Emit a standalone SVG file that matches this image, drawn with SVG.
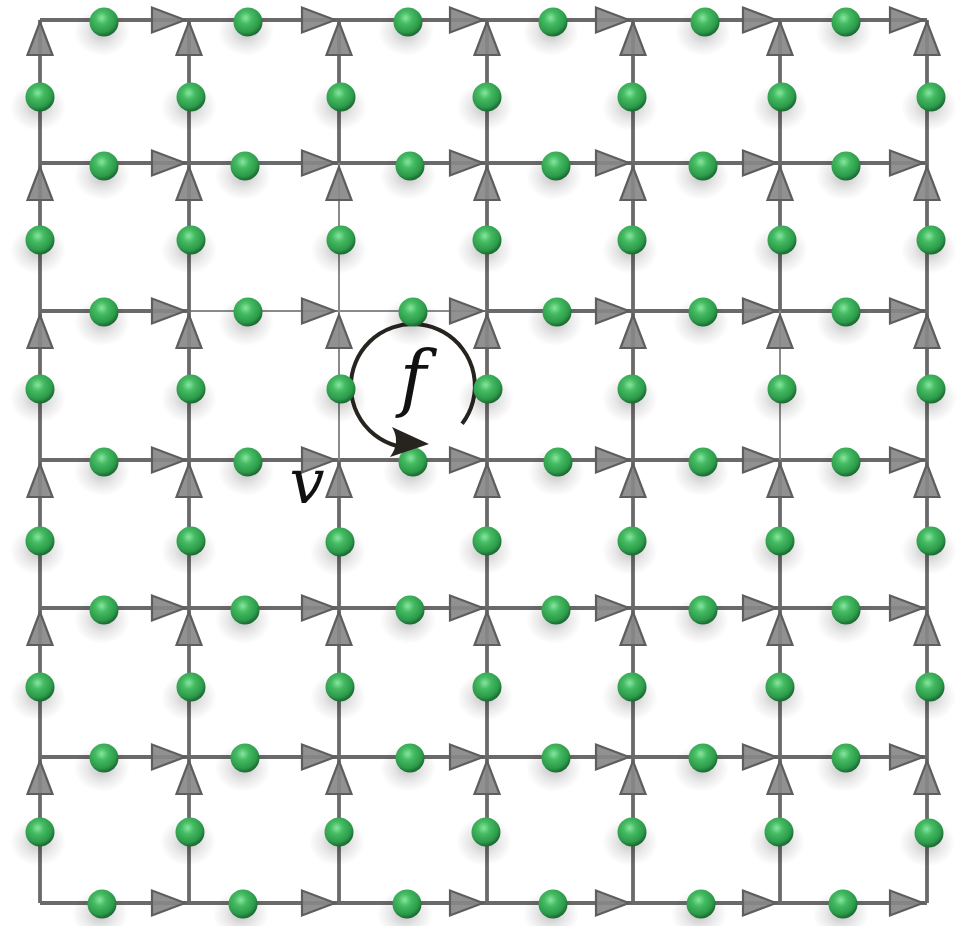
<svg xmlns="http://www.w3.org/2000/svg" xmlns:xlink="http://www.w3.org/1999/xlink" width="965" height="926" viewBox="0 0 965 926">
<defs>
<style>
.ln{stroke:#6a6a6a;stroke-width:3.8;fill:none;stroke-linecap:butt}
.thin{stroke:#8a8a8a;stroke-width:2}
.ar{fill:#888;fill-opacity:0.92;stroke:#5e5e5e;stroke-width:2.2;stroke-linejoin:miter}
</style>
<radialGradient id="gb" cx="0.42" cy="0.36" r="0.62">
<stop offset="0" stop-color="#86e6a0"/>
<stop offset="0.35" stop-color="#45bb62"/>
<stop offset="0.8" stop-color="#2c9a4a"/>
<stop offset="1" stop-color="#1c6d34"/>
</radialGradient>
<radialGradient id="gs" cx="0.5" cy="0.5" r="0.5">
<stop offset="0" stop-color="#000" stop-opacity="0.24"/>
<stop offset="0.55" stop-color="#000" stop-opacity="0.09"/>
<stop offset="1" stop-color="#000" stop-opacity="0"/>
</radialGradient>
<g id="ball">
<ellipse cx="-2" cy="10" rx="28" ry="24" fill="url(#gs)"/>
<circle r="14.5" fill="url(#gb)"/>
</g>
<path id="ah" class="ar" d="M0 0 L-33 -12.5 L-33 12.5 Z"/>
<path id="av" class="ar" d="M0 0 L-12.5 33 L12.5 33 Z"/>
</defs>
<rect width="965" height="926" fill="#fff"/>

<g id="connectors">
<g id="edges">
<path class="ln" d="M40 20H927M40 163H927M40 460H927M40 608H927M40 757H927M40 903H927"/>
<path class="ln" d="M40 311H189M487 311H927"/>
<path class="ln thin" d="M189 311H487"/>
<path class="ln" d="M40 20V903M189 20V903M487 20V903M633 20V903M927 20V903"/>
<path class="ln" d="M339 20V163M339 460V903"/>
<path class="ln thin" d="M339 163V460"/>
<path class="ln" d="M780 20V311M780 460V903"/>
<path class="ln thin" d="M780 311V460"/>
</g>
<g id="h-arrows">
<use href="#ah" x="185" y="20"/><use href="#ah" x="335" y="20"/><use href="#ah" x="483" y="20"/><use href="#ah" x="629" y="20"/><use href="#ah" x="776" y="20"/><use href="#ah" x="923" y="20"/>
<use href="#ah" x="185" y="163"/><use href="#ah" x="335" y="163"/><use href="#ah" x="483" y="163"/><use href="#ah" x="629" y="163"/><use href="#ah" x="776" y="163"/><use href="#ah" x="923" y="163"/>
<use href="#ah" x="185" y="311"/><use href="#ah" x="335" y="311"/><use href="#ah" x="483" y="311"/><use href="#ah" x="629" y="311"/><use href="#ah" x="776" y="311"/><use href="#ah" x="923" y="311"/>
<use href="#ah" x="185" y="460"/><use href="#ah" x="335" y="460"/><use href="#ah" x="483" y="460"/><use href="#ah" x="629" y="460"/><use href="#ah" x="776" y="460"/><use href="#ah" x="923" y="460"/>
<use href="#ah" x="185" y="608"/><use href="#ah" x="335" y="608"/><use href="#ah" x="483" y="608"/><use href="#ah" x="629" y="608"/><use href="#ah" x="776" y="608"/><use href="#ah" x="923" y="608"/>
<use href="#ah" x="185" y="757"/><use href="#ah" x="335" y="757"/><use href="#ah" x="483" y="757"/><use href="#ah" x="629" y="757"/><use href="#ah" x="776" y="757"/><use href="#ah" x="923" y="757"/>
<use href="#ah" x="185" y="903"/><use href="#ah" x="335" y="903"/><use href="#ah" x="483" y="903"/><use href="#ah" x="629" y="903"/><use href="#ah" x="776" y="903"/><use href="#ah" x="923" y="903"/>
</g>
<g id="v-arrows">
<use href="#av" x="40" y="22"/><use href="#av" x="40" y="167"/><use href="#av" x="40" y="315"/><use href="#av" x="40" y="464"/><use href="#av" x="40" y="612"/><use href="#av" x="40" y="761"/>
<use href="#av" x="189" y="22"/><use href="#av" x="189" y="167"/><use href="#av" x="189" y="315"/><use href="#av" x="189" y="464"/><use href="#av" x="189" y="612"/><use href="#av" x="189" y="761"/>
<use href="#av" x="339" y="22"/><use href="#av" x="339" y="167"/><use href="#av" x="339" y="315"/><use href="#av" x="339" y="464"/><use href="#av" x="339" y="612"/><use href="#av" x="339" y="761"/>
<use href="#av" x="487" y="22"/><use href="#av" x="487" y="167"/><use href="#av" x="487" y="315"/><use href="#av" x="487" y="464"/><use href="#av" x="487" y="612"/><use href="#av" x="487" y="761"/>
<use href="#av" x="633" y="22"/><use href="#av" x="633" y="167"/><use href="#av" x="633" y="315"/><use href="#av" x="633" y="464"/><use href="#av" x="633" y="612"/><use href="#av" x="633" y="761"/>
<use href="#av" x="780" y="22"/><use href="#av" x="780" y="167"/><use href="#av" x="780" y="315"/><use href="#av" x="780" y="464"/><use href="#av" x="780" y="612"/><use href="#av" x="780" y="761"/>
<use href="#av" x="927" y="22"/><use href="#av" x="927" y="167"/><use href="#av" x="927" y="315"/><use href="#av" x="927" y="464"/><use href="#av" x="927" y="612"/><use href="#av" x="927" y="761"/>
</g>
<path id="face-loop" d="M462.1 423.8 A62 62 0 1 0 397 446" fill="none" stroke="#27231f" stroke-width="4"/>
</g>

<g id="qubits">
<use id="qh-0-0" href="#ball" x="104" y="22"/><use id="qh-0-1" href="#ball" x="248" y="22"/><use id="qh-0-2" href="#ball" x="408" y="22"/><use id="qh-0-3" href="#ball" x="553" y="22"/><use id="qh-0-4" href="#ball" x="705" y="22"/><use id="qh-0-5" href="#ball" x="846" y="22"/>
<use id="qh-1-0" href="#ball" x="104" y="166"/><use id="qh-1-1" href="#ball" x="245" y="166"/><use id="qh-1-2" href="#ball" x="410" y="166"/><use id="qh-1-3" href="#ball" x="556" y="166"/><use id="qh-1-4" href="#ball" x="703" y="166"/><use id="qh-1-5" href="#ball" x="846" y="166"/>
<use id="qh-2-0" href="#ball" x="104" y="312"/><use id="qh-2-1" href="#ball" x="248" y="312"/><use id="qh-2-2" href="#ball" x="413" y="312"/><use id="qh-2-3" href="#ball" x="557" y="312"/><use id="qh-2-4" href="#ball" x="703" y="312"/><use id="qh-2-5" href="#ball" x="846" y="312"/>
<use id="qh-3-0" href="#ball" x="104" y="462"/><use id="qh-3-1" href="#ball" x="248" y="462"/><use id="qh-3-2" href="#ball" x="413" y="462"/><use id="qh-3-3" href="#ball" x="558" y="462"/><use id="qh-3-4" href="#ball" x="703" y="462"/><use id="qh-3-5" href="#ball" x="846" y="462"/>
<use id="qh-4-0" href="#ball" x="104" y="610"/><use id="qh-4-1" href="#ball" x="245" y="610"/><use id="qh-4-2" href="#ball" x="410" y="610"/><use id="qh-4-3" href="#ball" x="556" y="610"/><use id="qh-4-4" href="#ball" x="703" y="610"/><use id="qh-4-5" href="#ball" x="846" y="610"/>
<use id="qh-5-0" href="#ball" x="104" y="758"/><use id="qh-5-1" href="#ball" x="245" y="758"/><use id="qh-5-2" href="#ball" x="410" y="758"/><use id="qh-5-3" href="#ball" x="556" y="758"/><use id="qh-5-4" href="#ball" x="703" y="758"/><use id="qh-5-5" href="#ball" x="846" y="758"/>
<use id="qh-6-0" href="#ball" x="102" y="904"/><use id="qh-6-1" href="#ball" x="243" y="904"/><use id="qh-6-2" href="#ball" x="407" y="904"/><use id="qh-6-3" href="#ball" x="553" y="904"/><use id="qh-6-4" href="#ball" x="701" y="904"/><use id="qh-6-5" href="#ball" x="843" y="904"/>

<use id="qv-0-0" href="#ball" x="40" y="97"/><use id="qv-0-1" href="#ball" x="40" y="240"/><use id="qv-0-2" href="#ball" x="40" y="389"/><use id="qv-0-3" href="#ball" x="40" y="541"/><use id="qv-0-4" href="#ball" x="40" y="687"/><use id="qv-0-5" href="#ball" x="40" y="832"/>
<use id="qv-1-0" href="#ball" x="191" y="97"/><use id="qv-1-1" href="#ball" x="191" y="240"/><use id="qv-1-2" href="#ball" x="191" y="389"/><use id="qv-1-3" href="#ball" x="191" y="541"/><use id="qv-1-4" href="#ball" x="191" y="687"/><use id="qv-1-5" href="#ball" x="190" y="832"/>
<use id="qv-2-0" href="#ball" x="341" y="97"/><use id="qv-2-1" href="#ball" x="341" y="240"/><use id="qv-2-2" href="#ball" x="341" y="389"/><use id="qv-2-3" href="#ball" x="340" y="542"/><use id="qv-2-4" href="#ball" x="340" y="687"/><use id="qv-2-5" href="#ball" x="339" y="832"/>
<use id="qv-3-0" href="#ball" x="487" y="97"/><use id="qv-3-1" href="#ball" x="487" y="240"/><use id="qv-3-2" href="#ball" x="488" y="389"/><use id="qv-3-3" href="#ball" x="487" y="541"/><use id="qv-3-4" href="#ball" x="487" y="687"/><use id="qv-3-5" href="#ball" x="486" y="832"/>
<use id="qv-4-0" href="#ball" x="632" y="97"/><use id="qv-4-1" href="#ball" x="632" y="240"/><use id="qv-4-2" href="#ball" x="632" y="389"/><use id="qv-4-3" href="#ball" x="632" y="541"/><use id="qv-4-4" href="#ball" x="632" y="687"/><use id="qv-4-5" href="#ball" x="632" y="832"/>
<use id="qv-5-0" href="#ball" x="782" y="97"/><use id="qv-5-1" href="#ball" x="782" y="240"/><use id="qv-5-2" href="#ball" x="782" y="389"/><use id="qv-5-3" href="#ball" x="780" y="541"/><use id="qv-5-4" href="#ball" x="780" y="687"/><use id="qv-5-5" href="#ball" x="779" y="832"/>
<use id="qv-6-0" href="#ball" x="931" y="97"/><use id="qv-6-1" href="#ball" x="931" y="240"/><use id="qv-6-2" href="#ball" x="931" y="389"/><use id="qv-6-3" href="#ball" x="931" y="541"/><use id="qv-6-4" href="#ball" x="930" y="687"/><use id="qv-6-5" href="#ball" x="929" y="833"/>
</g>

<g id="face-arrowhead">
<path d="M429 444 L392 427 Q401 442 390 457 Z" fill="#27231f"/>
</g>
<g id="labels">
<text x="413" y="403" font-family="'DejaVu Serif',serif" font-style="italic" font-size="72" fill="#111" text-anchor="middle">f</text>
<text x="307" y="503" font-family="'DejaVu Serif',serif" font-style="italic" font-size="62" fill="#111" text-anchor="middle">v</text>
</g>
</svg>
